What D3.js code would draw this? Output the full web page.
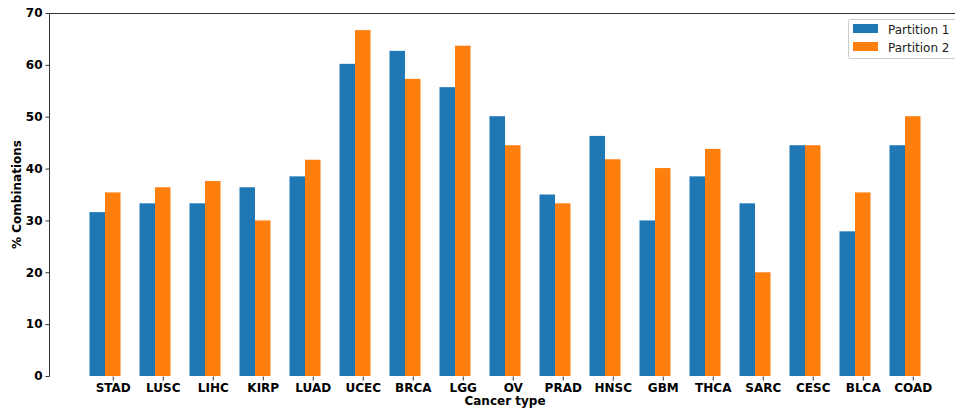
<!DOCTYPE html>
<html>
<head>
<meta charset="utf-8">
<script src="https://cdn.jsdelivr.net/npm/d3@7"></script>
<style>
  body { margin: 0; background: #fff; }
  svg { display: block; font-family: "DejaVu Sans", sans-serif; }
  .tick text { font-family: "DejaVu Sans", sans-serif; font-size: 12px; font-weight: bold; fill: #000; }
</style>
</head>
<body>
<svg id="root"></svg>
<script>
const categories = ["STAD", "LUSC", "LIHC", "KIRP", "LUAD", "UCEC", "BRCA", "LGG", "OV",
  "PRAD", "HNSC", "GBM", "THCA", "SARC", "CESC", "BLCA", "COAD"];
const partition1 = [31.6, 33.3, 33.3, 36.4, 38.5, 60.2, 62.7, 55.7, 50.1,
  35.0, 46.3, 30.0, 38.5, 33.3, 44.5, 27.9, 44.5];
const partition2 = [35.4, 36.4, 37.6, 30.0, 41.7, 66.7, 57.3, 63.7, 44.5,
  33.3, 41.8, 40.1, 43.8, 20.0, 44.5, 35.4, 50.1];
const seriesNames = ["Partition 1", "Partition 2"];
const colors = ["#1f77b4", "#ff7f0e"];
const yTicks = [0, 10, 20, 30, 40, 50, 60, 70];

const W = 955, H = 412;
const margin = { top: 13, left: 49, bottom: 36 };
const plotRight = 961; // the frame runs past the window edge
const height = H - margin.top - margin.bottom;

const svg = d3.select('#root').attr('width', W).attr('height', H);
const chart = svg.append('g').attr('transform', `translate(${margin.left}, ${margin.top})`);

const x = d3.scaleLinear()
  .domain([-1.12, categories.length - 1 + 1.12])
  .range([0, plotRight - margin.left]);
const y = d3.scaleLinear().domain([0, 70]).range([height, 0]);
const barW = x(0.31) - x(0);

[partition1, partition2].forEach((vals, s) => {
  chart.append('g').selectAll('rect')
    .data(vals)
    .enter()
    .append('rect')
      .attr('x', (d, i) => s === 0 ? x(i) - barW : x(i))
      .attr('y', d => y(d))
      .attr('width', barW)
      .attr('height', d => height - y(d))
      .attr('fill', colors[s]);
});

// frame
const frameW = plotRight - margin.left;
chart.append('path')
  .attr('d', `M0.5,${height + 0.5}V0.5H${frameW}`)
  .attr('fill', 'none').attr('stroke', '#333').attr('stroke-width', 1);

const yAxis = chart.append('g')
  .attr('transform', 'translate(0.5,0)')
  .call(d3.axisLeft(y).tickValues(yTicks).tickSize(4).tickPadding(3));
yAxis.select('.domain').remove();

// ticks sit under the middle of the second bar, as in the source chart
const xAxis = chart.append('g')
  .attr('transform', `translate(${barW / 2}, ${height + 0.5})`)
  .call(d3.axisBottom(x).tickValues(d3.range(categories.length))
    .tickFormat(i => categories[i]).tickSize(4).tickPadding(3));
xAxis.select('.domain').remove();
chart.selectAll('.tick line').attr('stroke', '#333');

svg.append('text')
  .attr('transform', `translate(21, ${margin.top + height / 2}) rotate(-90)`)
  .attr('text-anchor', 'middle')
  .attr('font-size', 12).attr('font-weight', 'bold')
  .text('% Combinations');

svg.append('text')
  .attr('x', 505).attr('y', 405)
  .attr('text-anchor', 'middle')
  .attr('font-size', 12).attr('font-weight', 'bold')
  .text('Cancer type');

// legend
const legend = svg.append('g').attr('transform', 'translate(848.5, 19.5)');
legend.append('rect')
  .attr('width', 120).attr('height', 39).attr('rx', 2)
  .attr('fill', '#fff').attr('stroke', '#ccc');
seriesNames.forEach((name, i) => {
  legend.append('rect')
    .attr('x', 4.5).attr('y', 4.5 + i * 18)
    .attr('width', 25).attr('height', 9)
    .attr('fill', colors[i]);
  legend.append('text')
    .attr('x', 39.5).attr('y', 14 + i * 18)
    .attr('font-size', 12)
    .attr('fill', '#222')
    .text(name);
});
</script>
</body>
</html>
